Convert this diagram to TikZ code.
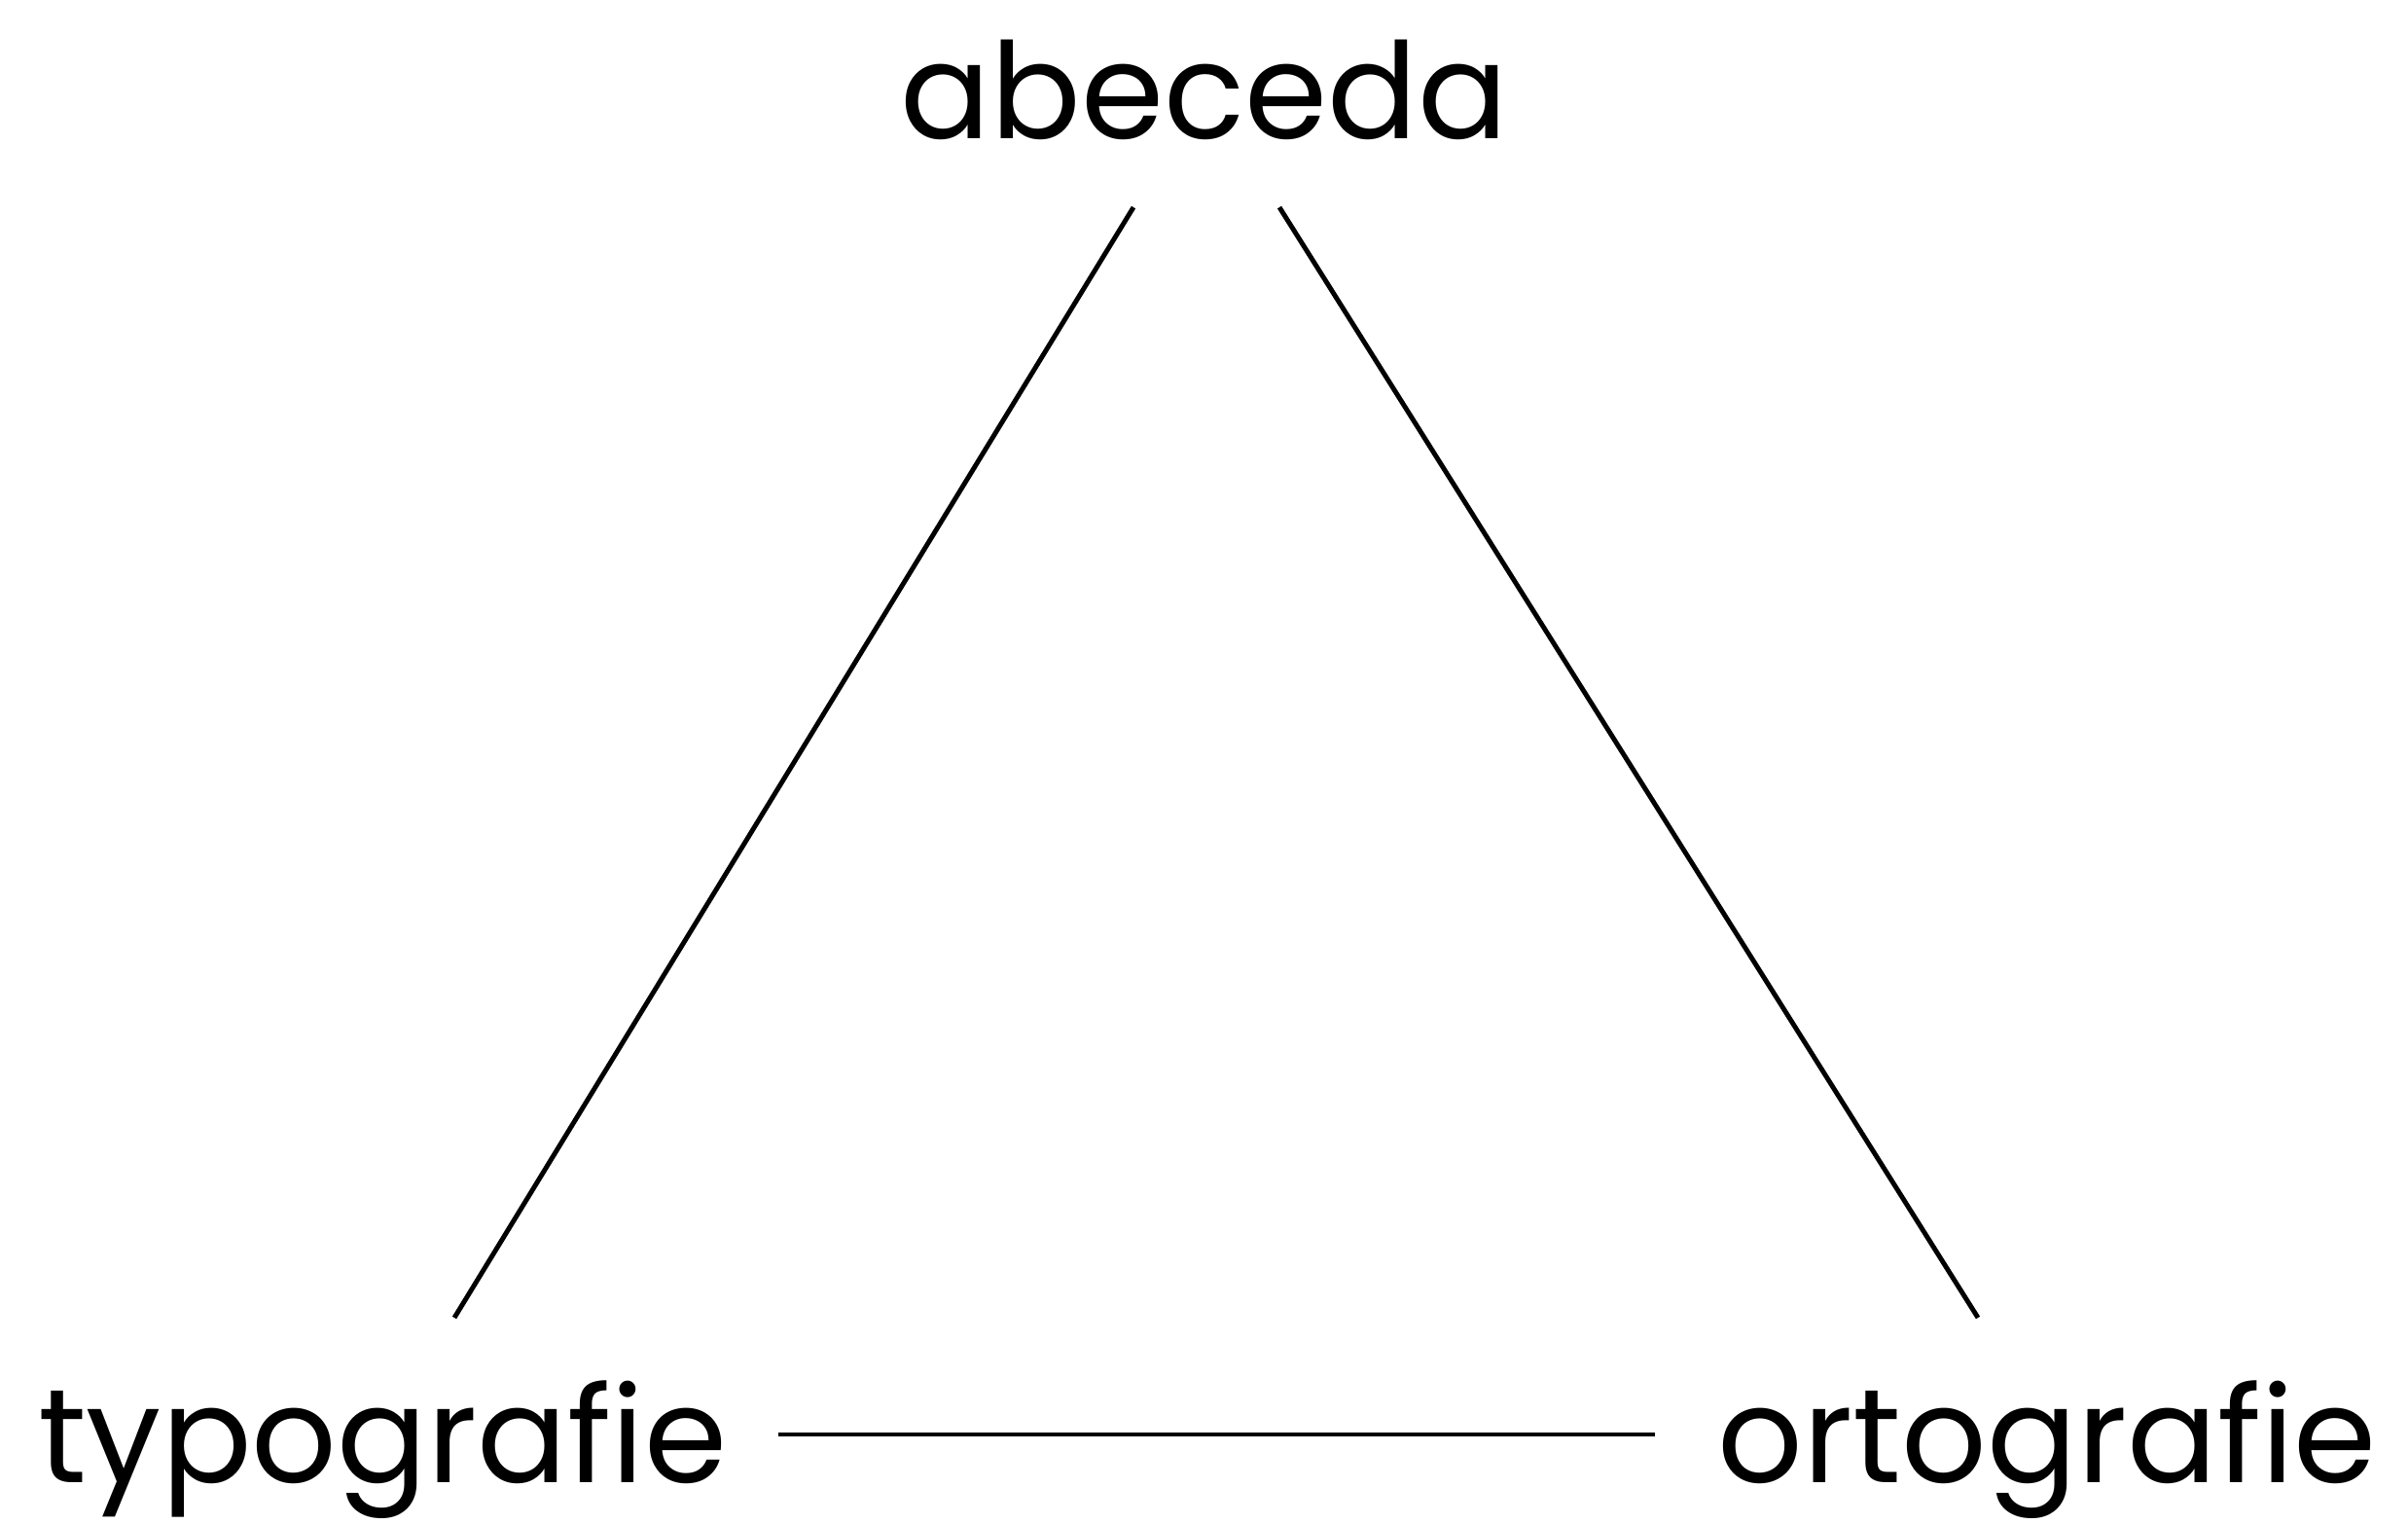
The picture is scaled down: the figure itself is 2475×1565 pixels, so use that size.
\documentclass[tikz,border=0pt]{standalone}
\usepackage{fontspec}
\setmainfont{Poppins}
\begin{document}
\begin{tikzpicture}[x=0.01cm,y=-0.01cm,
  lbl/.style={inner sep=0pt,outer sep=0pt,font=\fontsize{39}{40}\selectfont},
  conn/.style={line width=1.4pt,black}]
\useasboundingbox (0,0) rectangle (2475,1565);
\node[lbl,anchor=base] (abc) at (1238,142) {abeceda};
\node[lbl,anchor=base west] (typ) at (39,1523) {typografie};
\node[lbl,anchor=base east] (ort) at (2443,1523) {ortografie};
\coordinate (abcL) at (1165,213);
\coordinate (abcR) at (1315,213);
\coordinate (typT) at (467,1354);
\coordinate (ortT) at (2033,1354);
\coordinate (typR) at (800,1474);
\coordinate (ortL) at (1701,1474);
\draw[conn] (abcL) -- (typT);
\draw[conn] (abcR) -- (ortT);
\draw[conn] (typR) -- (ortL);
\end{tikzpicture}
\end{document}
